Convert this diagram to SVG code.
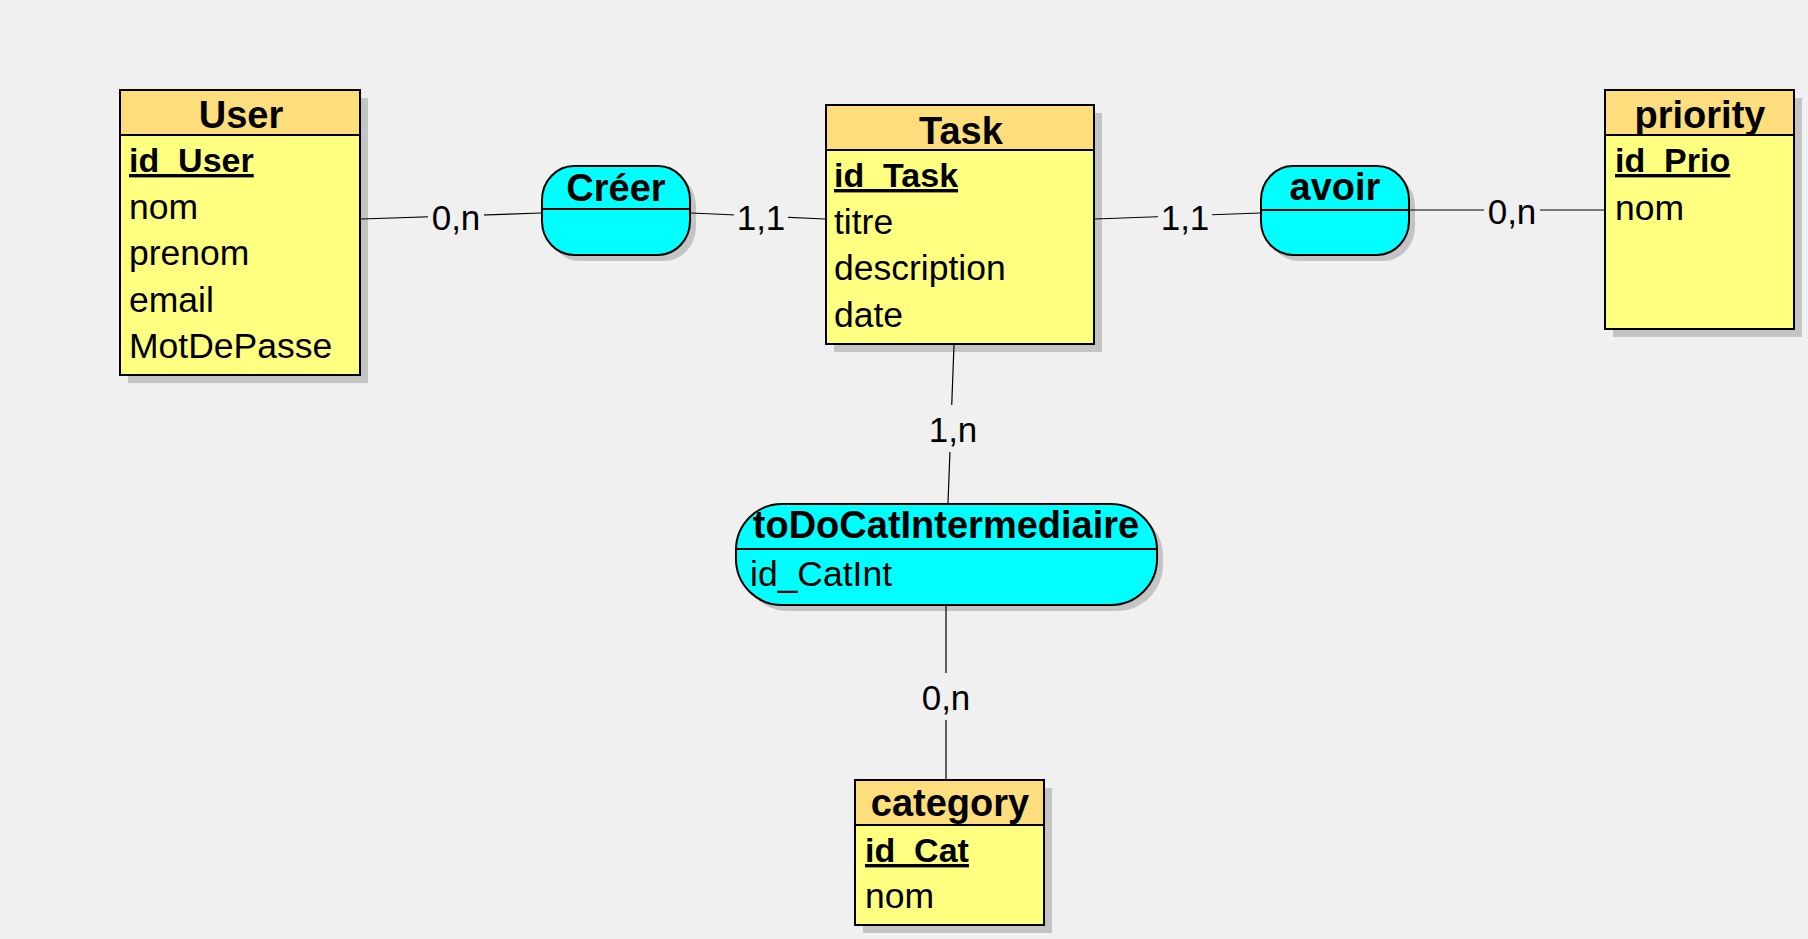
<svg xmlns="http://www.w3.org/2000/svg" width="1808" height="939" viewBox="0 0 1808 939">
<style>
.bg{fill:#f0f0f0}
.sh{fill:#c4c4c4}
.hd{fill:#fedd7c;stroke:#000;stroke-width:2}
.bd{fill:#ffff80;stroke:#000;stroke-width:2}
.as{fill:#00ffff;stroke:#000;stroke-width:2}
.dv{stroke:#000;stroke-width:2}
.t{font-family:"Liberation Sans",Arial,sans-serif;font-weight:bold;font-size:38px;fill:#000;text-anchor:middle}
.a{font-family:"Liberation Sans",Arial,sans-serif;font-size:35.5px;fill:#000}
.k{font-family:"Liberation Sans",Arial,sans-serif;font-size:34px;font-weight:bold;fill:#000;text-decoration:underline}
.c{fill:none;stroke:#000;stroke-width:1.2}
.lb{font-family:"Liberation Sans",Arial,sans-serif;font-size:35px;fill:#000;text-anchor:middle}
.lbg{fill:#f0f0f0}
</style>
<rect class="bg" x="0" y="0" width="1808" height="939"/>
<g id="User">
<rect class="sh" x="128" y="98" width="240" height="285"/>
<rect class="bd" x="120" y="90" width="240" height="285"/>
<rect class="hd" x="120" y="90" width="240" height="45"/>
<text class="t" x="241" y="128">User</text>
<text class="k" x="129" y="172">id_User</text>
<text class="a" x="129" y="219">nom</text>
<text class="a" x="129" y="265">prenom</text>
<text class="a" x="129" y="312">email</text>
<text class="a" x="129" y="358">MotDePasse</text>
</g>
<g id="Task">
<rect class="sh" x="834" y="113" width="268" height="239"/>
<rect class="bd" x="826" y="105" width="268" height="239"/>
<rect class="hd" x="826" y="105" width="268" height="45"/>
<text class="t" x="961" y="144">Task</text>
<text class="k" x="834" y="187">id_Task</text>
<text class="a" x="834" y="234">titre</text>
<text class="a" x="834" y="280">description</text>
<text class="a" x="834" y="327">date</text>
</g>
<g id="priority">
<rect class="sh" x="1613" y="98" width="189" height="239"/>
<rect class="bd" x="1605" y="90" width="189" height="239"/>
<rect class="hd" x="1605" y="90" width="189" height="45"/>
<text class="t" x="1700" y="128">priority</text>
<text class="k" x="1615" y="172">id_Prio</text>
<text class="a" x="1615" y="220">nom</text>
</g>
<g id="category">
<rect class="sh" x="863" y="788" width="189" height="145"/>
<rect class="bd" x="855" y="780" width="189" height="145"/>
<rect class="hd" x="855" y="780" width="189" height="45"/>
<text class="t" x="950" y="816">category</text>
<text class="k" x="865" y="862">id_Cat</text>
<text class="a" x="865" y="908">nom</text>
</g>
<g id="Creer">
<rect class="sh" x="548" y="172" width="148" height="89" rx="32" ry="34"/>
<rect class="as" x="542" y="166" width="148" height="89" rx="32" ry="34"/>
<line class="dv" x1="542" y1="209" x2="690" y2="209"/>
<text class="t" x="616" y="201">Créer</text>
</g>
<g id="avoir">
<rect class="sh" x="1267" y="172" width="148" height="89" rx="32" ry="34"/>
<rect class="as" x="1261" y="166" width="148" height="89" rx="32" ry="34"/>
<line class="dv" x1="1261" y1="210" x2="1409" y2="210"/>
<text class="t" x="1335" y="200">avoir</text>
</g>
<g id="toDoCatIntermediaire">
<rect class="sh" x="742" y="510" width="421" height="101" rx="46" ry="46"/>
<rect class="as" x="736" y="504" width="421" height="101" rx="46" ry="46"/>
<line class="dv" x1="736" y1="549" x2="1157" y2="549"/>
<text class="t" x="946" y="538">toDoCatIntermediaire</text>
<text class="a" x="750" y="586">id_CatInt</text>
</g>
<g id="connectors">
<line class="c" x1="361" y1="219" x2="541" y2="213"/>
<line class="c" x1="691" y1="213" x2="825" y2="219"/>
<line class="c" x1="1095" y1="219" x2="1260" y2="213"/>
<line class="c" x1="1410" y1="210" x2="1604" y2="210"/>
<line class="c" x1="954" y1="345" x2="948" y2="503"/>
<line class="c" x1="946" y1="606" x2="946" y2="779"/>
<rect class="lbg" x="428" y="198" width="56" height="38"/>
<text class="lb" x="456" y="230">0,n</text>
<rect class="lbg" x="734" y="198" width="54" height="38"/>
<text class="lb" x="761" y="230">1,1</text>
<rect class="lbg" x="1158" y="198" width="54" height="38"/>
<text class="lb" x="1185" y="230">1,1</text>
<rect class="lbg" x="1484" y="192" width="56" height="38"/>
<text class="lb" x="1512" y="224">0,n</text>
<rect class="lbg" x="924" y="405" width="58" height="47"/>
<text class="lb" x="953" y="442">1,n</text>
<rect class="lbg" x="917" y="673" width="58" height="47"/>
<text class="lb" x="946" y="710">0,n</text>
</g>
</svg>
